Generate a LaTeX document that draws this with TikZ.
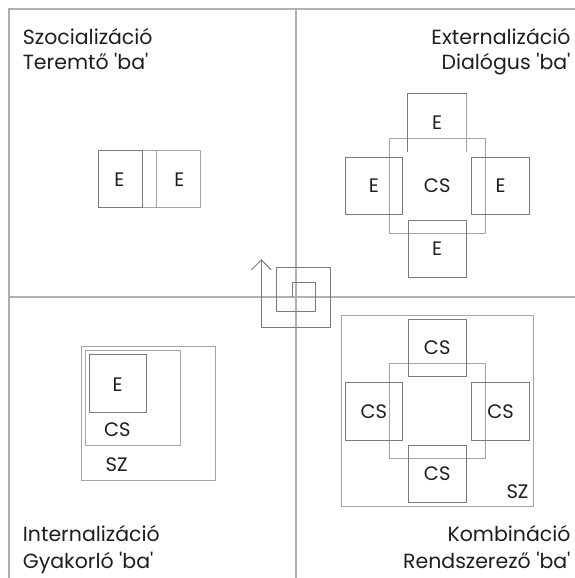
\documentclass[tikz,border=0pt]{standalone}
\usepackage{fontspec}
\setmainfont{Poppins}
\usetikzlibrary{arrows.meta}
\definecolor{frame1}{HTML}{B0B0B0}
\definecolor{box1}{HTML}{7A7A7A}
\definecolor{box2}{HTML}{A4A4A4}
\definecolor{ink1}{HTML}{1E1E1E}

\tikzset{
  qlabel/.style={inner sep=0pt, text=ink1, font=\fontsize{20.5}{24}\selectfont},
  blabel/.style={inner sep=0pt, text=ink1, font=\fontsize{19.5}{22}\selectfont},
  ebox/.style={draw=box1, line width=0.9pt, inner sep=0pt, minimum width=57.7pt, minimum height=57.5pt, text=ink1, font=\fontsize{19.5}{22}\selectfont}
}
\newcommand{\ba}{\textquotesingle ba\textquotesingle}

\begin{document}
\begin{tikzpicture}[x=1pt,y=-1pt]

\useasboundingbox (0,0) rectangle (575,578);

\begin{scope}

\draw[frame1,line width=1.3pt] (9,578) -- (9,9) -- (575,9);
\draw[frame1,line width=1.3pt] (296,9) -- (296,578);
\draw[frame1,line width=1.1pt] (9,297) -- (575,297);

\node[qlabel,anchor=base west] (szoc) at (22.7,45) {Szocializáció};
\node[qlabel,anchor=base west] (szocba) at (22.7,70) {Teremtő \ba};
\node[qlabel,anchor=base east] (ext) at (570.7,45) {Externalizáció};
\node[qlabel,anchor=base east] (extba) at (570.7,70) {Dialógus \ba};
\node[qlabel,anchor=base west] (inte) at (22.7,541) {Internalizáció};
\node[qlabel,anchor=base west] (inteba) at (22.7,568) {Gyakorló \ba};
\node[qlabel,anchor=base east] (komb) at (570.7,541) {Kombináció};
\node[qlabel,anchor=base east] (kombba) at (570.7,568) {Rendszerező \ba};

\draw[box2,line width=0.9pt] (142.3,150.7) rectangle (200,207.3);
\draw[box1,line width=0.9pt] (98.3,150.7) rectangle (142.3,207.3);
\draw[box2,line width=0.9pt] (156,150.7) -- (156,207.3);
\node[blabel] (szocE1) at (119.5,179.3) {E};
\node[blabel] (szocE2) at (179.3,179.3) {E};

\node[ebox,draw=box2,minimum width=95.7pt,minimum height=95pt] (extCS) at (437.2,185.8) {CS};
\node[ebox,draw=none] (extE1) at (437.2,122.9) {E};
\draw[box1,line width=0.9pt] (extE1.south west) -- (extE1.north west) -- (extE1.north east);
\draw[box2,line width=0.9pt] (extE1.north east) -- (extE1.south east);
\node[ebox] (extE2) at (373.9,185.8) {E};
\node[ebox] (extE3) at (500.5,185.8) {E};
\node[ebox] (extE4) at (437.2,248.9) {E};

\draw[box2,line width=0.9pt] (81.7,346.7) rectangle (215.7,480);
\draw[box2,line width=0.9pt] (85.3,350.7) rectangle (180.7,445.7);
\draw[box1,line width=0.9pt] (89.3,354) rectangle (146.7,412.3);
\node[blabel] (inteE) at (117.7,385) {E};
\node[blabel] (inteCS) at (117.3,430) {CS};
\node[blabel] (inteSZ) at (116.7,465) {SZ};

\draw[box2,line width=0.9pt] (341.7,315) rectangle (533.3,506.7);
\draw[box2,line width=0.9pt] (389.3,363.3) rectangle (485,458.3);
\node[ebox] (kombCS1) at (437.2,348) {CS};
\node[ebox] (kombCS2) at (373.9,411.4) {CS};
\node[ebox] (kombCS3) at (500.5,411.4) {CS};
\node[ebox] (kombCS4) at (437.2,473.7) {CS};
\node[blabel] (kombSZ) at (517.5,491.7) {SZ};

\draw[box1,line width=0.9pt,-{Straight Barb[length=10pt,width=20pt]}] (292.3,297.3) -- (292.3,282.7) -- (315,282.7) -- (315,311.7) -- (276.7,311.7) -- (276.7,267.3) -- (330.3,267.3) -- (330.3,327.3) -- (261.3,327.3) -- (261.3,259.3);

\end{scope}

\end{tikzpicture}
\end{document}
